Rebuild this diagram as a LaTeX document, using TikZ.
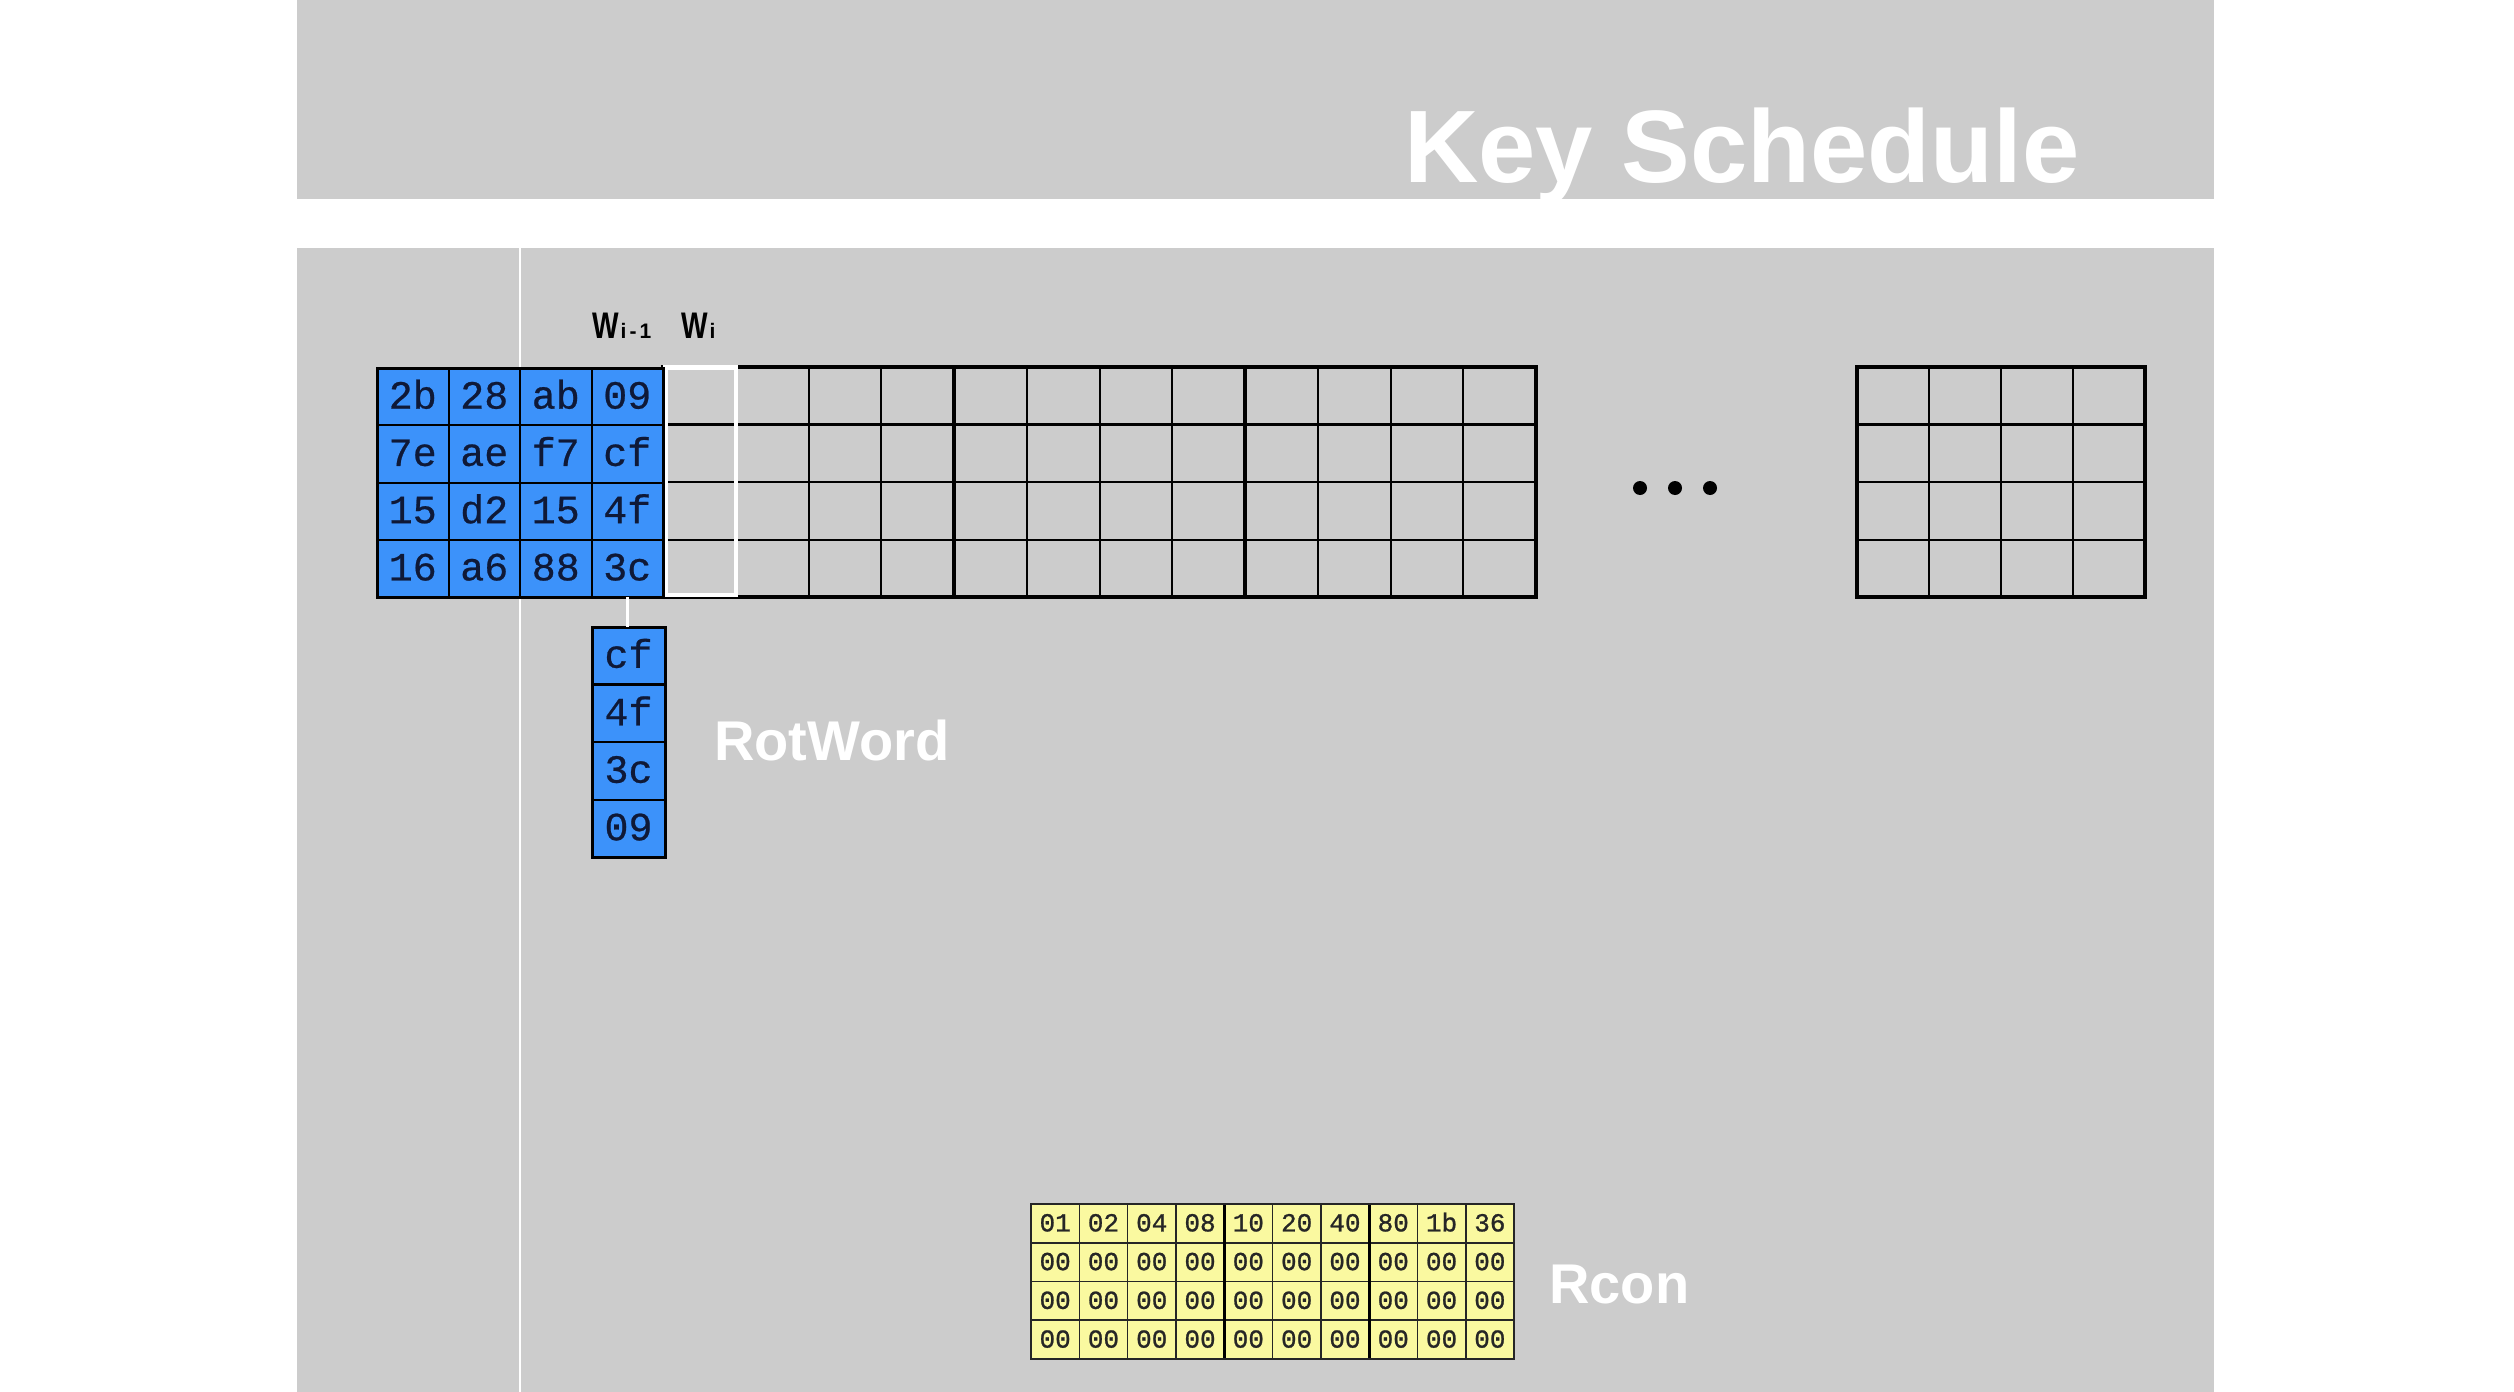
\documentclass[tikz,border=0pt]{standalone}
\usepackage{fontspec}
\setmainfont{Liberation Sans}
\newfontfamily\monofont[FakeBold=0.6]{Liberation Mono}
\newfontfamily\rconfont[FakeBold=1]{Liberation Mono}
\definecolor{panel}{RGB}{204,204,204}
\definecolor{keyblue}{RGB}{60,146,250}
\definecolor{rconyellow}{RGB}{250,249,160}
\definecolor{inkblue}{RGB}{15,25,55}
\begin{document}
\begin{tikzpicture}[x=1pt,y=-1pt,
  keycell/.style={draw=black, line width=2pt, fill=keyblue, text=inkblue,
    font=\monofont\fontsize{40}{40}\selectfont, minimum width=71.5pt,
    minimum height=57.25pt, inner sep=0pt, outer sep=0pt, text height=24pt, text depth=0pt},
  rwcell/.style={keycell, minimum width=73pt, minimum height=57.5pt},
  rconcell/.style={draw=black!85, line width=1.6pt, fill=rconyellow, text=black!85,
    font=\rconfont\fontsize{26}{26}\selectfont, minimum width=48.3pt,
    minimum height=38.75pt, inner sep=0pt, outer sep=0pt, text height=16pt, text depth=0pt},
  gridthin/.style={line width=2pt, black},
  gridthick/.style={line width=3.5pt, black},
  biglabel/.style={text=white, font=\bfseries\fontsize{56}{56}\selectfont, anchor=base west, inner sep=0pt},
  wlabel/.style={text=black, font=\bfseries\fontsize{37}{37}\selectfont, anchor=base west, inner sep=0pt},
]
% canvas
\fill[white] (0,0) rectangle (2514,1392);
\useasboundingbox (0,0) rectangle (2514,1392);
\fill[panel] (297,0) rectangle (2214,199);
\fill[panel] (297,248) rectangle (2214,1392);
\coordinate (vtop) at (520,248);
\coordinate (vbot) at (520,1392);
\draw[white, line width=2.5pt] (vtop) -- (vbot);

% title
\node[text=white, font=\bfseries\fontsize{103}{103}\selectfont, anchor=base west, inner sep=0pt] (title) at (1404,182) {Key Schedule};

% gray grid (columns 5..16)
\foreach \k in {1,2,3,5,6,7,9,10,11}
  \draw[gridthin] ({663+72.75*\k},367) -- ({663+72.75*\k},597);
\foreach \y in {482,539.5}
  \draw[gridthin] (663,\y) -- (1536,\y);
\draw[line width=3pt] (663,424.5) -- (1536,424.5);
\foreach \k in {4,8}
  \draw[gridthick] ({663+72.75*\k},367) -- ({663+72.75*\k},597);
\draw[gridthick] (663,367) rectangle (1536,597);

% white W_i column
\node[draw=white, line width=4.5pt, minimum width=70.5pt, minimum height=227.5pt,
  inner sep=0pt, outer sep=0pt, anchor=north west] (wi) at (665.25,367.25) {};

% last round key grid
\foreach \xx in {1929,2001,2073}
  \draw[gridthin] (\xx,367) -- (\xx,597);
\foreach \y in {482,539.5}
  \draw[gridthin] (1857,\y) -- (2145,\y);
\draw[line width=3pt] (1857,424.5) -- (2145,424.5);
\draw[gridthick] (1857,367) rectangle (2145,597);

% dots
\fill[black] (1640,488) circle (7pt);
\fill[black] (1675,488) circle (7pt);
\fill[black] (1710,488) circle (7pt);

% cipher key (blue)
\foreach \v [count=\i from 0] in {2b,28,ab,09,7e,ae,f7,cf,15,d2,15,4f,16,a6,88,3c}{
  \pgfmathtruncatemacro{\kr}{div(\i,4)}
  \pgfmathtruncatemacro{\kc}{mod(\i,4)}
  \node[keycell] (k-\kr-\kc) at ({377+71.5*(\kc+0.5)},{368+57.25*(\kr+0.5)}) {\v};
}
\draw[line width=3pt] (k-0-0.north west) rectangle (k-3-3.south east);

% labels W_{i-1}, W_i
\node[wlabel] (wim1) at (592,338) {\scalebox{0.76}[1]{W}{\fontsize{21}{21}\selectfont\kern2pt i\kern3pt-\kern3pt1}};
\node[wlabel] (wilab) at (681,338) {\scalebox{0.76}[1]{W}{\fontsize{21}{21}\selectfont\kern2pt i}};

% RotWord column
\node[rwcell] (rw-1) at (628.5,655.75) {cf};
\node[rwcell] (rw-2) at (628.5,713.25) {4f};
\node[rwcell] (rw-3) at (628.5,770.75) {3c};
\node[rwcell] (rw-4) at (628.5,828.25) {09};
\draw[line width=3pt] (rw-1.north west) rectangle (rw-4.south east);
\draw[line width=3pt] (rw-1.south west) -- (rw-1.south east);
\draw[white, line width=2.5pt] (k-3-3.south) -- (k-3-3.south |- rw-1.north);
\node[biglabel] (rotword) at (714,760) {RotWord};

% Rcon
\foreach \v [count=\j from 0] in {01,02,04,08,10,20,40,80,1b,36}
  \node[rconcell] (rc-0-\j) at ({1031+48.3*(\j+0.5)},{1204+38.75*0.5}) {\v};
\foreach \rr in {1,2,3}
  \foreach \j in {0,...,9}
    \node[rconcell] (rc-\rr-\j) at ({1031+48.3*(\j+0.5)},{1204+38.75*(\rr+0.5)}) {00};
\draw[line width=3pt] (rc-0-3.north east) -- (rc-3-3.south east);
\draw[line width=3pt] (rc-0-6.north east) -- (rc-3-6.south east);
\draw[line width=2.5pt, black!85] (rc-0-0.north west) rectangle (rc-3-9.south east);
\node[biglabel] (rcon) at (1549,1303) {Rcon};
\end{tikzpicture}
\end{document}
